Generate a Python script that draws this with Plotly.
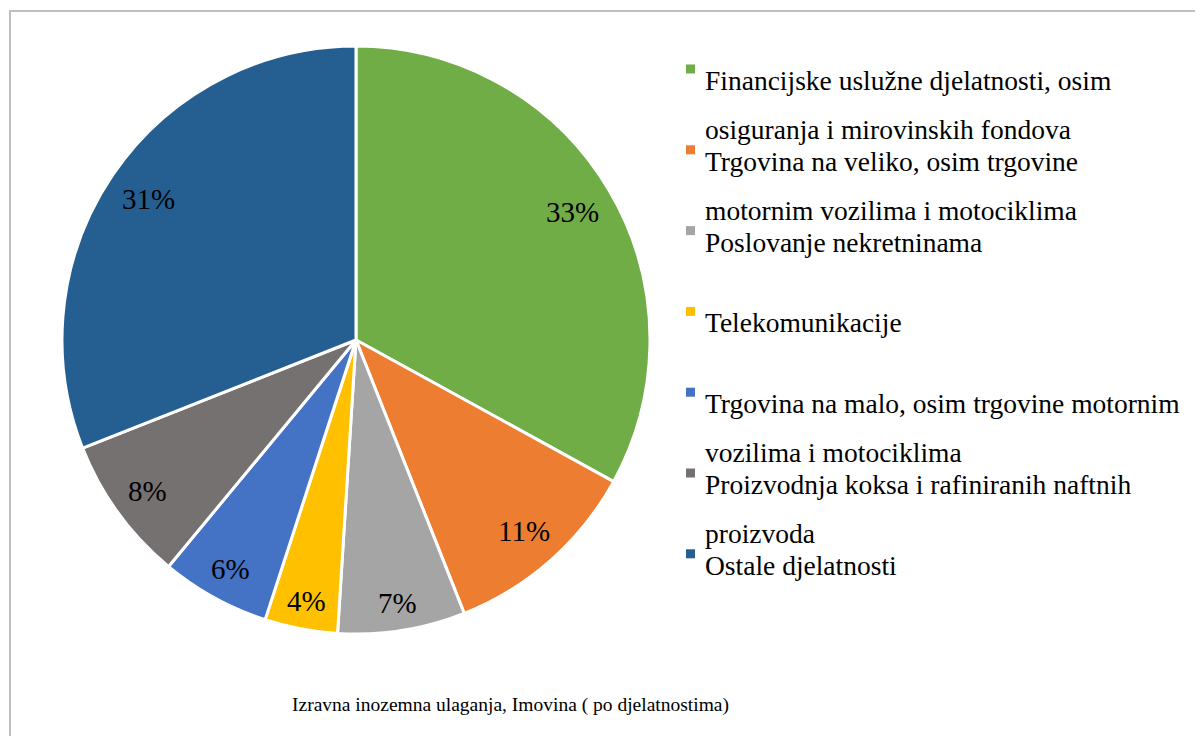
import math
import plotly.graph_objects as go

categories = [
    "Financijske uslužne djelatnosti, osim osiguranja i mirovinskih fondova",
    "Trgovina na veliko, osim trgovine motornim vozilima i motociklima",
    "Poslovanje nekretninama",
    "Telekomunikacije",
    "Trgovina na malo, osim trgovine motornim vozilima i motociklima",
    "Proizvodnja koksa i rafiniranih naftnih proizvoda",
    "Ostale djelatnosti",
]
values = [33, 11, 7, 4, 6, 8, 31]
colors = ["#70AD47", "#ED7D31", "#A5A5A5", "#FFC000", "#4472C4", "#767171", "#255E91"]
# legend text as wrapped in the original (line breaks)
legend_lines = [
    ["Financijske uslužne djelatnosti, osim", "osiguranja i mirovinskih fondova"],
    ["Trgovina na veliko, osim trgovine", "motornim vozilima i motociklima"],
    ["Poslovanje nekretninama"],
    ["Telekomunikacije"],
    ["Trgovina na malo, osim trgovine motornim", "vozilima i motociklima"],
    ["Proizvodnja koksa i rafiniranih naftnih", "proizvoda"],
    ["Ostale djelatnosti"],
]
title_text = "Izravna inozemna ulaganja, Imovina ( po djelatnostima)"

W, H = 1203, 736
OFF = 8  # page body margin
FONT = "Liberation Serif"
LABEL_SIZE = 29
LEGEND_SIZE = 27.5
TITLE_SIZE = 19.5


def px(x):
    return (x - OFF) / W


def py(y):
    return 1 - (y - OFF) / H


# pie geometry (screen pixels)
CX, CY, R = 356, 340, 294

fig = go.Figure(
    go.Pie(
        labels=categories,
        values=values,
        sort=False,
        direction="clockwise",
        rotation=0,
        marker=dict(colors=colors, line=dict(color="white", width=3)),
        textinfo="none",
        domain=dict(x=[px(CX - R), px(CX + R)], y=[py(CY + R), py(CY - R)]),
        showlegend=False,
        hoverinfo="label+percent",
    )
)

annotations = []
# percentage labels placed near the outer edge of each slice
total = sum(values)
cum = 0
for v in values:
    mid = (cum + v / 2) / total * 2 * math.pi
    cum += v
    txt = f"{round(v / total * 100)}%"
    w = (0.5 * (len(txt) - 1) + 0.833) * LABEL_SIZE
    h = 0.68 * LABEL_SIZE
    s, c = math.sin(mid), math.cos(mid)
    extent = abs(w / 2 * s) + abs(h / 2 * c)
    r = R - extent - 15
    lx = CX + r * s
    ly = CY - r * c
    annotations.append(dict(text=txt, xref="paper", yref="paper", x=px(lx), y=py(ly),
                            xanchor="center", yanchor="middle", showarrow=False,
                            font=dict(family=FONT, size=LABEL_SIZE, color="black")))

shapes = [
    dict(type="rect", xref="paper", yref="paper",
         x0=px(10), x1=px(1230), y0=py(760), y1=py(11),
         line=dict(color="#BFBFBF", width=2), fillcolor="rgba(0,0,0,0)", layer="below")
]
slot = 80.8
for i, lines in enumerate(legend_lines):
    base = 91 + slot * i
    cy = base - 22
    shapes.append(dict(type="rect", xref="paper", yref="paper",
                       x0=px(686), x1=px(695), y0=py(cy + 4.5), y1=py(cy - 4.5),
                       line=dict(width=0), fillcolor=colors[i]))
    for j, line in enumerate(lines):
        annotations.append(dict(
            text=line, xref="paper", yref="paper", x=px(703), y=py(base + 49 * j + 7),
            xanchor="left", yanchor="bottom", showarrow=False,
            font=dict(family=FONT, size=LEGEND_SIZE, color="black")))

annotations.append(dict(text=title_text, xref="paper", yref="paper", x=px(511), y=py(718),
                        xanchor="center", yanchor="bottom", showarrow=False,
                        font=dict(family=FONT, size=TITLE_SIZE, color="black")))

fig.update_layout(
    width=W, height=H,
    margin=dict(l=0, r=0, t=0, b=0),
    paper_bgcolor="white",
    plot_bgcolor="white",
    shapes=shapes,
    annotations=annotations,
    showlegend=False,
)
fig.write_html("out.html")
